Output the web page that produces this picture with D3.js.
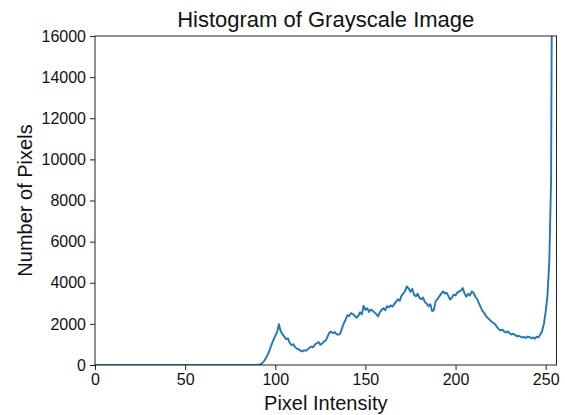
<!DOCTYPE html>
<html>
<head>
<meta charset="utf-8">
<script src="https://cdn.jsdelivr.net/npm/d3@7"></script>
<style>
  html, body { margin: 0; padding: 0; background: #fff; }
  svg { display: block; font-family: "Liberation Sans", Arial, sans-serif; }
</style>
</head>
<body>
<svg id="chart" width="565" height="415"></svg>
<script>
// Pixel counts per gray level 0..255
const levels0to89 = new Array(90).fill(0);
const levels90to255 = [
  5, 15, 45, 110, 220, 360, 540, 760, 1000, 1220,
  1420, 1600, 1980, 1640, 1500, 1380, 1250, 1300, 1080, 960,
  1010, 860, 800, 760, 700, 660, 720, 690, 760, 840,
  900, 860, 1000, 1060, 1120, 980, 1050, 1140, 1190, 1380,
  1580, 1620, 1550, 1600, 1500, 1470, 1520, 1780, 2020, 2200,
  2420, 2380, 2520, 2480, 2400, 2300, 2380, 2560, 2460, 2880,
  2680, 2760, 2580, 2700, 2640, 2560, 2480, 2360, 2560, 2680,
  2760, 2660, 2860, 2800, 2900, 2840, 2960, 3080, 3200, 3120,
  3360, 3480, 3600, 3820, 3720, 3560, 3700, 3420, 3340, 3460,
  3260, 3200, 3280, 3060, 2980, 2860, 2960, 2620, 2680, 3120,
  3200, 3340, 3460, 3580, 3480, 3520, 3360, 3180, 3280, 3420,
  3380, 3520, 3580, 3620, 3740, 3480, 3320, 3460, 3380, 3580,
  3500, 3320, 3200, 3000, 2800, 2620, 2520, 2360, 2280, 2200,
  2100, 2040, 1980, 1840, 1740, 1680, 1720, 1620, 1580, 1640,
  1540, 1480, 1520, 1460, 1400, 1420, 1380, 1340, 1360, 1320,
  1380, 1360, 1300, 1340, 1280, 1380, 1340, 1480, 1640, 2000,
  2600, 3400, 5000, 9000, 30000, 120000
];
const counts = levels0to89.concat(levels90to255);

const xTicks = [0, 50, 100, 150, 200, 250];
const yTicks = [0, 2000, 4000, 6000, 8000, 10000, 12000, 14000, 16000];

const titleText = "Histogram of Grayscale Image";
const xLabelText = "Pixel Intensity";
const yLabelText = "Number of Pixels";

const svg = d3.select("#chart");
const margin = { left: 95, top: 36, right: 565 - 556.5, bottom: 415 - 365 };
const W = 565 - margin.left - margin.right;
const H = 415 - margin.top - margin.bottom;

const x = d3.scaleLinear().domain([0, 256]).range([0, W]);
const y = d3.scaleLinear().domain([0, 16000]).range([H, 0]);

const g = svg.append("g").attr("transform", `translate(${margin.left},${margin.top})`);

g.append("clipPath").attr("id", "plotClip")
  .append("rect").attr("x", 0).attr("y", 0).attr("width", W).attr("height", H);

const line = d3.line()
  .x((d, i) => x(i))
  .y(d => y(d));

g.append("path")
  .datum(counts)
  .attr("clip-path", "url(#plotClip)")
  .attr("fill", "none")
  .attr("stroke", "#1f77b4")
  .attr("stroke-width", 1.9)
  .attr("stroke-linejoin", "round")
  .attr("d", line);

// Frame
g.append("rect")
  .attr("x", 0).attr("y", 0).attr("width", W).attr("height", H)
  .attr("fill", "none").attr("stroke", "#222").attr("stroke-width", 1);

const xAxis = g.append("g")
  .attr("transform", `translate(0,${H})`)
  .call(d3.axisBottom(x).tickValues(xTicks).tickSize(5).tickPadding(4).tickFormat(d3.format("d")));
const yAxis = g.append("g")
  .call(d3.axisLeft(y).tickValues(yTicks).tickSize(5).tickPadding(4).tickFormat(d3.format("d")));

[xAxis, yAxis].forEach(a => {
  a.select(".domain").remove();
  a.selectAll("line").attr("stroke", "#222");
  a.selectAll("text")
    .attr("fill", "#111")
    .style("font-size", "16px")
    .style("font-family", "'Liberation Sans', Arial, sans-serif");
});

svg.append("text")
  .attr("x", margin.left + W / 2)
  .attr("y", 27)
  .attr("text-anchor", "middle")
  .attr("fill", "#111")
  .style("font-size", "22px")
  .text(titleText);

svg.append("text")
  .attr("x", margin.left + W / 2)
  .attr("y", 410)
  .attr("text-anchor", "middle")
  .attr("fill", "#111")
  .style("font-size", "20px")
  .text(xLabelText);

svg.append("text")
  .attr("transform", `translate(32,${margin.top + H / 2}) rotate(-90)`)
  .attr("text-anchor", "middle")
  .attr("fill", "#111")
  .style("font-size", "20px")
  .text(yLabelText);
</script>
</body>
</html>
